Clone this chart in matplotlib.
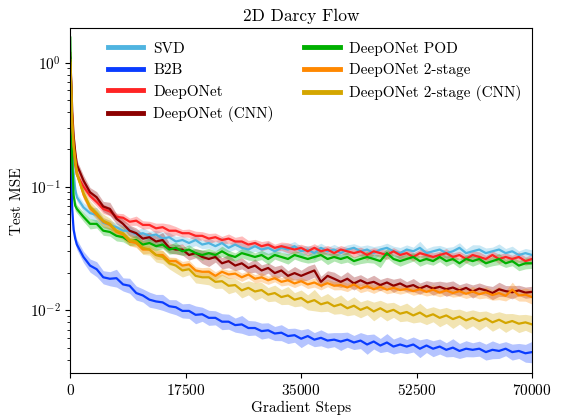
import matplotlib
matplotlib.use("Agg")
import matplotlib.pyplot as plt
import numpy as np

plt.rcParams["font.family"] = "serif"
plt.rcParams["font.serif"] = ["cmr10", "DejaVu Serif"]
plt.rcParams["mathtext.fontset"] = "cm"
plt.rcParams["axes.formatter.use_mathtext"] = True
plt.rcParams["axes.unicode_minus"] = False

STEPS = [0, 150, 300, 500, 750] + list(range(1000, 70001, 1000))

LABELS = ["SVD", "B2B", "DeepONet", "DeepONet (CNN)",
          "DeepONet POD", "DeepONet 2-stage", "DeepONet 2-stage (CNN)"]
COLORS = ["#4fb4e0", "#0a3cff", "#ff2424", "#8c0000",
          "#00b000", "#ff8800", "#d4a600"]

svd = [1.00, 0.45, 0.22, 0.13, 0.095,
       0.082, 0.068, 0.061, 0.059, 0.051, 0.049, 0.047, 0.044, 0.044, 0.041,
       0.042, 0.040, 0.041, 0.038, 0.039, 0.036, 0.037, 0.035, 0.037, 0.034,
       0.035, 0.033, 0.035, 0.032, 0.034, 0.032, 0.031, 0.033, 0.031, 0.032,
       0.030, 0.032, 0.031, 0.033, 0.030, 0.031, 0.029, 0.032, 0.030, 0.031,
       0.029, 0.031, 0.032, 0.030, 0.031, 0.029, 0.031, 0.032, 0.030, 0.029,
       0.031, 0.030, 0.032, 0.029, 0.030, 0.031, 0.029, 0.030, 0.032, 0.029,
       0.030, 0.031, 0.029, 0.030, 0.031, 0.029, 0.030, 0.028, 0.029, 0.028]
b2b = [1.00, 0.13, 0.065, 0.045, 0.038,
       0.034, 0.027, 0.023, 0.0215, 0.0185, 0.018, 0.0182, 0.0162, 0.0158, 0.0138,
       0.0132, 0.0122, 0.0118, 0.0116, 0.0108, 0.0106, 0.0099, 0.0099, 0.0092, 0.0093,
       0.0087, 0.0087, 0.0081, 0.0081, 0.0076, 0.0077, 0.0072, 0.0072, 0.0068, 0.0069,
       0.0065, 0.0066, 0.0062, 0.0063, 0.0059, 0.0062, 0.0058, 0.006, 0.0057, 0.0058,
       0.0056, 0.0058, 0.0055, 0.0057, 0.0053, 0.0056, 0.0052, 0.0055, 0.0051, 0.0053,
       0.0051, 0.0053, 0.0049, 0.0052, 0.0049, 0.0051, 0.0048, 0.005, 0.0047, 0.0049,
       0.0048, 0.0049, 0.0046, 0.0048, 0.0047, 0.0049, 0.0046, 0.0047, 0.0045, 0.0046]
deeponet = [1.20, 0.60, 0.32, 0.20, 0.150,
            0.125, 0.100, 0.084, 0.075, 0.066, 0.063, 0.057, 0.056, 0.052, 0.053,
            0.049, 0.049, 0.046, 0.047, 0.044, 0.044, 0.042, 0.042, 0.040, 0.040,
            0.038, 0.039, 0.037, 0.038, 0.036, 0.036, 0.034, 0.035, 0.033, 0.034,
            0.032, 0.033, 0.032, 0.031, 0.032, 0.030, 0.032, 0.030, 0.031, 0.029,
            0.031, 0.030, 0.029, 0.030, 0.028, 0.030, 0.029, 0.028, 0.030, 0.028,
            0.029, 0.027, 0.029, 0.028, 0.027, 0.028, 0.029, 0.027, 0.028, 0.026,
            0.028, 0.027, 0.026, 0.028, 0.026, 0.027, 0.026, 0.027, 0.025, 0.026]
deeponet_cnn = [1.10, 0.70, 0.40, 0.26, 0.19,
                0.150, 0.112, 0.090, 0.082, 0.069, 0.066, 0.055, 0.050, 0.044, 0.042,
                0.038, 0.039, 0.036, 0.037, 0.032, 0.031, 0.031, 0.028, 0.029, 0.027,
                0.026, 0.027, 0.024, 0.025, 0.023, 0.024, 0.022, 0.023, 0.021, 0.022,
                0.020, 0.021, 0.019, 0.020, 0.019, 0.020, 0.021, 0.017, 0.019, 0.018,
                0.017, 0.018, 0.0165, 0.0175, 0.0165, 0.017, 0.016, 0.0168, 0.0158, 0.0165,
                0.0155, 0.016, 0.015, 0.0158, 0.015, 0.0155, 0.0148, 0.0153, 0.0145, 0.0152,
                0.0142, 0.015, 0.0145, 0.0138, 0.0148, 0.0143, 0.014, 0.0145, 0.0139, 0.0141]
deeponet_pod = [1.60, 0.50, 0.16, 0.085, 0.070,
                0.066, 0.057, 0.050, 0.050, 0.044, 0.043, 0.040, 0.039, 0.036, 0.037,
                0.034, 0.035, 0.033, 0.034, 0.031, 0.032, 0.030, 0.031, 0.029, 0.028,
                0.029, 0.028, 0.030, 0.028, 0.027, 0.029, 0.028, 0.027, 0.028, 0.026,
                0.028, 0.027, 0.026, 0.028, 0.027, 0.026, 0.027, 0.028, 0.026, 0.027,
                0.026, 0.027, 0.025, 0.026, 0.027, 0.026, 0.025, 0.029, 0.026, 0.025,
                0.026, 0.027, 0.025, 0.026, 0.025, 0.027, 0.025, 0.026, 0.024, 0.026,
                0.025, 0.026, 0.024, 0.025, 0.026, 0.024, 0.025, 0.023, 0.024, 0.024]
two_stage = [1.00, 0.60, 0.33, 0.22, 0.17,
             0.130, 0.086, 0.067, 0.059, 0.052, 0.049, 0.043, 0.041, 0.036, 0.035,
             0.031, 0.031, 0.028, 0.028, 0.025, 0.025, 0.023, 0.0235, 0.021, 0.0205,
             0.0205, 0.019, 0.0205, 0.0195, 0.0198, 0.0185, 0.0195, 0.018, 0.0185, 0.0175,
             0.0182, 0.017, 0.0175, 0.0165, 0.0172, 0.0162, 0.0168, 0.0158, 0.0166, 0.0158,
             0.016, 0.0153, 0.0162, 0.015, 0.0157, 0.0148, 0.0155, 0.0147, 0.0152, 0.0146,
             0.0149, 0.0143, 0.0148, 0.0141, 0.0147, 0.0139, 0.0145, 0.0138, 0.0143, 0.0136,
             0.0142, 0.0135, 0.014, 0.0133, 0.0138, 0.0131, 0.0147, 0.0132, 0.0134, 0.0128]
two_stage_cnn = [1.05, 0.60, 0.32, 0.21, 0.16,
                 0.125, 0.089, 0.069, 0.061, 0.053, 0.050, 0.044, 0.042, 0.037, 0.036,
                 0.032, 0.031, 0.028, 0.027, 0.024, 0.023, 0.021, 0.0215, 0.019, 0.0185,
                 0.0185, 0.017, 0.0172, 0.0158, 0.016, 0.0145, 0.0152, 0.0142, 0.0146, 0.0134,
                 0.0138, 0.0128, 0.0132, 0.0122, 0.0126, 0.0116, 0.0121, 0.0112, 0.0116, 0.0108,
                 0.0112, 0.0104, 0.0109, 0.0101, 0.0106, 0.0098, 0.0104, 0.0097, 0.0101, 0.0094,
                 0.0097, 0.0091, 0.0096, 0.0089, 0.0093, 0.0087, 0.0091, 0.0085, 0.0089, 0.0083,
                 0.0087, 0.0082, 0.0086, 0.008, 0.0084, 0.0079, 0.0082, 0.0078, 0.008, 0.0077]

# band half-width in percent of the mean
svd_sp = [12, 12, 10, 10, 10,
          8, 9, 11, 15, 10, 9, 8, 10, 9, 8,
          11, 9, 8, 13, 9, 10, 8, 9, 11, 8,
          10, 9, 13, 8, 9, 11, 8, 10, 9, 13,
          9, 8, 11, 9, 10, 8, 13, 9, 8, 10,
          11, 9, 8, 10, 9, 13, 8, 9, 10, 11,
          9, 8, 13, 9, 10, 8, 11, 9, 10, 8,
          13, 9, 10, 8, 11, 9, 10, 8, 9, 10]
b2b_sp = [12, 12, 10, 10, 10,
          10, 11, 13, 15, 13, 14, 18, 13, 15, 14,
          13, 15, 14, 16, 13, 15, 14, 15, 18, 14,
          15, 14, 16, 15, 14, 18, 15, 14, 16, 15,
          14, 16, 15, 14, 18, 15, 14, 16, 15, 14,
          18, 15, 14, 16, 20, 15, 14, 18, 15, 16,
          14, 15, 18, 14, 16, 15, 14, 18, 15, 16,
          14, 15, 16, 18, 15, 14, 16, 15, 18, 22]
deeponet_sp = [12, 12, 10, 10, 10,
               8, 8, 7, 8, 9, 8, 7, 8, 7, 9,
               8, 7, 10, 8, 13, 8, 7, 8, 9, 8,
               10, 8, 7, 9, 8, 11, 8, 7, 9, 8,
               7, 8, 10, 8, 7, 9, 8, 7, 8, 9,
               8, 7, 9, 8, 10, 7, 8, 9, 7, 8,
               9, 8, 7, 10, 8, 7, 9, 8, 7, 8,
               8, 10, 7, 8, 9, 8, 7, 10, 8, 9]
deeponet_cnn_sp = [12, 12, 10, 10, 10,
                   9, 10, 9, 11, 10, 13, 10, 9, 11, 10,
                   9, 10, 11, 15, 10, 9, 11, 10, 9, 13,
                   15, 10, 11, 13, 10, 11, 10, 13, 11, 10,
                   13, 11, 10, 13, 11, 14, 13, 11, 10, 13,
                   11, 14, 13, 11, 10, 13, 11, 10, 13, 11,
                   10, 13, 11, 10, 13, 11, 14, 13, 11, 10,
                   13, 11, 10, 13, 14, 11, 13, 10, 11, 11]
deeponet_pod_sp = [12, 12, 10, 10, 10,
                   8, 9, 10, 8, 9, 8, 10, 9, 8, 9,
                   8, 10, 9, 8, 9, 11, 8, 9, 8, 10,
                   9, 8, 10, 9, 8, 9, 10, 8, 9, 11,
                   8, 9, 10, 8, 9, 8, 10, 9, 11, 8,
                   9, 10, 8, 9, 11, 8, 13, 9, 8, 10,
                   9, 8, 10, 9, 8, 9, 10, 8, 9, 8,
                   10, 9, 8, 9, 11, 8, 9, 10, 11, 10]
two_stage_sp = [12, 12, 10, 10, 10,
                8, 9, 8, 9, 8, 9, 8, 7, 8, 9,
                8, 7, 8, 9, 8, 7, 8, 8, 7, 8,
                9, 8, 7, 8, 9, 8, 7, 8, 9, 8,
                7, 8, 9, 8, 7, 8, 9, 8, 7, 8,
                9, 8, 7, 8, 9, 8, 7, 8, 9, 8,
                7, 8, 9, 8, 10, 8, 9, 8, 10, 9,
                10, 9, 11, 10, 13, 10, 15, 11, 13, 14]
two_stage_cnn_sp = [12, 12, 10, 10, 10,
                    9, 10, 11, 10, 13, 11, 10, 13, 11, 10,
                    13, 11, 14, 13, 11, 15, 13, 11, 14, 13,
                    15, 13, 14, 16, 13, 15, 14, 18, 15, 14,
                    16, 15, 18, 14, 16, 15, 22, 15, 18, 16,
                    19, 15, 18, 16, 15, 19, 16, 18, 15, 16,
                    18, 15, 19, 16, 15, 18, 16, 19, 15, 18,
                    16, 19, 15, 18, 16, 19, 15, 18, 16, 18]

MEANS = [svd, b2b, deeponet, deeponet_cnn, deeponet_pod, two_stage, two_stage_cnn]
SPREADS = [svd_sp, b2b_sp, deeponet_sp, deeponet_cnn_sp, deeponet_pod_sp,
           two_stage_sp, two_stage_cnn_sp]

fig = plt.figure(figsize=(5.64, 4.16), dpi=100)
ax = fig.add_axes([0.1246, 0.1026, 0.8187, 0.8294])

x = np.array(STEPS)
for lab, col, m, sp in zip(LABELS, COLORS, MEANS, SPREADS):
    m = np.array(m)
    s = np.array(sp) / 100.0
    ax.fill_between(x, m / (1 + s), m * (1 + s), color=col, alpha=0.3, lw=0)
    ax.plot(x, m, color=col, lw=1.6, label=lab)

ax.set_yscale("log")
ax.set_xlim(0, 70000)
ax.set_ylim(3.1e-3, 1.9)
ax.set_xticks([0, 17500, 35000, 52500, 70000])
ax.tick_params(labelsize=11)
ax.set_title("2D Darcy Flow", fontsize=12.5, pad=5)
ax.set_xlabel("Gradient Steps", fontsize=11, labelpad=2)
ax.set_ylabel("Test MSE", fontsize=11)

leg = ax.legend(ncol=2, frameon=False, loc="upper left",
                bbox_to_anchor=(0.069, 0.979), borderaxespad=0, fontsize=11,
                handlelength=2.3, handletextpad=0.65, columnspacing=2.0,
                labelspacing=0.5)
for line in leg.get_lines():
    line.set_linewidth(3.5)

fig.savefig("out.png", dpi=100)
